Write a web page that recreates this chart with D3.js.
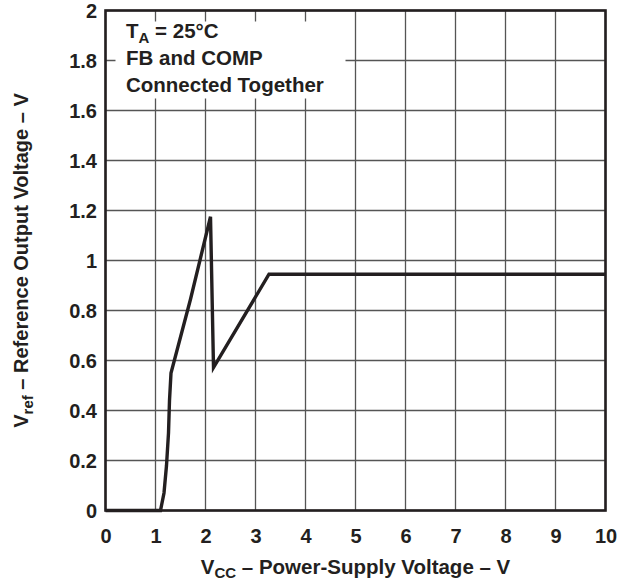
<!DOCTYPE html>
<html>
<head>
<meta charset="utf-8">
<script src="https://cdn.jsdelivr.net/npm/d3@7"></script>
<style>
  html, body { margin: 0; padding: 0; background: #fff; }
  text { font-family: "Liberation Sans", Arial, Helvetica, sans-serif; font-weight: bold; fill: #231f20; }
</style>
</head>
<body>
<svg id="chart" width="618" height="583"></svg>
<script>
// Data
const vcc  = [0, 1.10, 1.17, 1.22, 1.26, 1.28, 1.31, 1.70, 2.10, 2.16, 3.27, 10];
const vref = [0, 0,    0.07, 0.18, 0.31, 0.44, 0.55, 0.845, 1.175, 0.572, 0.945, 0.945];
const xTicks = [0, 1, 2, 3, 4, 5, 6, 7, 8, 9, 10];
const yTicks = [0, 0.2, 0.4, 0.6, 0.8, 1, 1.2, 1.4, 1.6, 1.8, 2];
const noteLines = ["FB and COMP", "Connected Together"];

const svg = d3.select("#chart");
const m = { left: 105.5, top: 10.5, w: 500, h: 500 };
const x = d3.scaleLinear().domain([0, 10]).range([m.left, m.left + m.w]);
const y = d3.scaleLinear().domain([0, 2]).range([m.top + m.h, m.top]);

// grid
const g = svg.append("g");
g.selectAll(".vg").data(xTicks).enter().append("line")
  .attr("x1", d => x(d)).attr("x2", d => x(d))
  .attr("y1", y(0)).attr("y2", y(2))
  .attr("stroke", "#555").attr("stroke-width", 1.3);
g.selectAll(".hg").data(yTicks).enter().append("line")
  .attr("y1", d => y(d)).attr("y2", d => y(d))
  .attr("x1", x(0)).attr("x2", x(10))
  .attr("stroke", "#555").attr("stroke-width", 1.3);

// note box (white, hides grid)
svg.append("rect")
  .attr("x", x(0) + 10).attr("y", y(2) + 11)
  .attr("width", 230).attr("height", 77)
  .attr("fill", "#fff");

// frame
svg.append("rect")
  .attr("x", x(0)).attr("y", y(2)).attr("width", m.w).attr("height", m.h)
  .attr("fill", "none").attr("stroke", "#231f20").attr("stroke-width", 2.6);

// axes labels via d3 axes
const xAxis = d3.axisBottom(x).tickValues(xTicks).tickSize(0).tickPadding(18).tickFormat(d3.format("d"));
const xa = svg.append("g").attr("transform", `translate(0,${y(0)})`).call(xAxis);
xa.select(".domain").remove();
xa.selectAll("text").attr("font-size", 20).attr("font-family", null).style("fill", "#231f20");

const yAxis = d3.axisLeft(y).tickValues(yTicks).tickSize(0).tickPadding(8.5).tickFormat(d => d3.format("")(+d.toFixed(1)));
const ya = svg.append("g").attr("transform", `translate(${x(0)},0)`).call(yAxis);
ya.select(".domain").remove();
ya.selectAll("text").attr("font-size", 20).attr("font-family", null).attr("dy", "0.36em").style("fill", "#231f20");

// curve
const pts = vcc.map((v, i) => [v, vref[i]]);
svg.append("path")
  .datum(pts)
  .attr("d", d3.line().x(d => x(d[0])).y(d => y(d[1])))
  .attr("fill", "none").attr("stroke", "#231f20").attr("stroke-width", 3.4)
  .attr("stroke-linejoin", "miter");

// note text
const nt = svg.append("text").attr("x", 126).attr("y", 38).attr("font-size", 20.5);
nt.append("tspan").text("T");
nt.append("tspan").attr("font-size", 15).attr("dy", 5).text("A");
nt.append("tspan").attr("dy", -5).text(" = 25°C");
noteLines.forEach((t, i) => {
  svg.append("text").attr("x", 126).attr("y", 65 + i * 26.7).attr("font-size", 20.5).text(t);
});

// x title
const xt = svg.append("text").attr("x", x(5)).attr("y", 574).attr("text-anchor", "middle").attr("font-size", 20.5);
xt.append("tspan").text("V");
xt.append("tspan").attr("font-size", 15).attr("dy", 4).text("CC");
xt.append("tspan").attr("dy", -4).text(" – Power-Supply Voltage – V");

// y title
const yt = svg.append("text").attr("transform", `translate(28,${y(1)}) rotate(-90)`).attr("text-anchor", "middle").attr("font-size", 20);
yt.append("tspan").text("V");
yt.append("tspan").attr("font-size", 15).attr("dy", 5).text("ref");
yt.append("tspan").attr("dy", -5).text(" – Reference Output Voltage – V");
</script>
</body>
</html>
